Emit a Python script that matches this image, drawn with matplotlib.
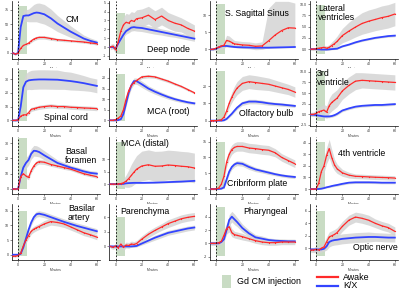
import matplotlib
matplotlib.use("Agg")
import matplotlib.pyplot as plt
import numpy as np

plt.rcParams['font.family'] = ['Liberation Sans', 'DejaVu Sans']

# time grid (minutes)
t = [-4, -2, 0, 2, 4, 6, 8, 10, 12, 14, 16, 20, 25, 30, 35, 40, 45, 50, 55, 60]

cm_kx = [0, -2, 0, 45, 64, 65, 65, 67, 69, 70, 69.5, 67, 60, 51, 44, 37, 31, 25, 21, 18]
cm_kx_sd = [2, 2, 2, 8, 10, 10, 11, 13, 15, 16, 17, 17, 16, 14, 12, 10, 8, 6, 5, 4]
cm_aw = [0, -2, 0, 8, 13, 15, 17, 21, 24, 26, 27, 27, 25, 23, 22, 21, 20, 19, 17.5, 16]
cm_aw_sd = [1, 1, 1, 2, 2, 2, 2.5, 3, 3, 3, 3, 3, 3, 2.5, 2.5, 2, 2, 2, 2, 2]

dn_kx = [0, 0, -0.2, 0.4, 0.9, 1.4, 1.8, 2.0, 2.2, 2.25, 2.2, 2.15, 2.0, 1.85, 1.7, 1.55, 1.4, 1.25, 1.1, 0.95]
dn_kx_sd = [0.2, 0.2, 0.2, 0.3, 0.3, 0.3, 0.35, 0.4, 0.4, 0.4, 0.4, 0.4, 0.4, 0.4, 0.35, 0.35, 0.3, 0.3, 0.3, 0.3]
dn_aw = [0, 0.1, -0.3, 0.6, 1.8, 2.5, 2.8, 2.7, 3.0, 2.9, 3.2, 3.3, 3.6, 3.1, 3.5, 3.0, 2.7, 2.5, 2.1, 1.8]
dn_aw_sd = [0.3, 0.3, 0.4, 0.6, 0.8, 0.9, 1, 1, 1, 1, 1, 1, 1, 1, 1, 0.9, 0.9, 0.8, 0.8, 0.7]

ss_kx = [0, 0, 0.2, 0.6, 0.9, 1.0, 1.0, 0.9, 0.8, 0.7, 0.65, 0.6, 0.55, 0.5, 0.5, 0.5, 0.55, 0.6, 0.65, 0.7]
ss_kx_sd = [0.1, 0.1, 0.2, 0.3, 0.3, 0.3, 0.3, 0.3, 0.2, 0.2, 0.2, 0.2, 0.2, 0.2, 0.2, 0.2, 0.2, 0.2, 0.2, 0.2]
ss_aw = [0, 0.1, 0.3, 0.7, 1.0, 1.2, 2.6, 2.4, 2.0, 1.6, 1.5, 1.3, 1.2, 0.9, 1.0, 2.5, 4.2, 5.5, 6.3, 6.2]
ss_aw_lo = [-0.3, -0.2, -0.2, 0, 0, 0.2, 1.1, 0.9, 0.8, 0.6, 0.5, 0.3, 0.2, -0.1, 0, 0.5, 0.8, 0.9, 1.0, 1.0]
ss_aw_hi = [0.3, 0.4, 0.8, 1.5, 2.0, 2.2, 4.1, 3.9, 3.2, 2.6, 2.5, 2.3, 2.2, 1.9, 2.2, 12, 14, 14, 14, 13.5]

lv_kx = [0, 0, 0, -0.05, -0.1, -0.1, -0.1, -0.05, 0, 0.05, 0.1, 0.6, 1.0, 1.5, 1.9, 2.2, 2.5, 2.7, 2.9, 3.0]
lv_kx_sd = [0.15, 0.15, 0.15, 0.15, 0.15, 0.15, 0.15, 0.15, 0.15, 0.15, 0.15, 0.15, 0.15, 0.2, 0.2, 0.2, 0.2, 0.2, 0.25, 0.25]
lv_aw = [0, 0, 0.1, 0.2, 0.3, 0.4, 0.2, 0.4, 0.8, 1.2, 1.7, 3.0, 4.0, 4.9, 5.7, 6.2, 6.6, 7.0, 7.3, 7.8]
lv_aw_sd = [0.3, 0.3, 0.3, 0.4, 0.4, 0.5, 0.5, 0.6, 0.8, 1.0, 1.2, 1.6, 2.0, 2.2, 2.4, 2.5, 2.5, 2.6, 2.6, 2.6]

sc_kx = [0, 0, 0, 10, 24, 28, 29, 29.3, 29.5, 29.6, 29.7, 29.7, 29.6, 29.5, 29, 28.5, 27.8, 27, 26, 25]
sc_kx_sd = [0.5, 0.5, 0.5, 3, 5, 6, 6.5, 7, 7, 7, 7, 7, 7, 7, 6.5, 6.5, 6, 5.5, 5, 5]
sc_aw = [0, 0, 0.5, 3, 4, 4, 5.5, 8, 8.5, 9, 9.5, 10, 10.5, 10, 10, 9.5, 9.3, 9, 8.8, 8.5]
sc_aw_sd = [0.5, 0.5, 0.5, 1, 1.2, 1.2, 1.5, 1.5, 1.5, 1.5, 1.5, 1.5, 1.5, 1.5, 1.5, 1.5, 1.5, 1.5, 1.5, 1.5]

mr_kx = [0, 0, 0, 0.1, 0.5, 3, 8, 13, 16.5, 18.5, 18.5, 17, 15, 13.5, 12.2, 11, 10, 9.2, 8.5, 8]
mr_kx_sd = [0.3, 0.3, 0.3, 0.3, 0.5, 1, 1.5, 1.5, 1.5, 1.5, 1.5, 1.5, 1.3, 1.2, 1.1, 1, 0.9, 0.8, 0.7, 0.7]
mr_aw = [0, 0, 0.3, 1, 2, 5, 10, 14, 16.5, 17.8, 18.8, 20.5, 20.8, 20.5, 19.5, 18.5, 17.2, 16, 14.5, 13]
mr_aw_sd = [0.3, 0.3, 0.3, 0.4, 0.5, 0.6, 0.8, 0.8, 0.8, 0.8, 0.8, 0.8, 0.8, 0.7, 0.7, 0.7, 0.6, 0.6, 0.6, 0.5]

ob_kx = [0, 0, 0, 0, 0, 0.2, 1, 2.5, 4, 5.8, 7.5, 10, 11, 11, 10.6, 10, 9.6, 9.3, 8.9, 8.5]
ob_kx_sd = [0.2, 0.2, 0.2, 0.2, 0.2, 0.3, 0.5, 0.7, 0.8, 0.9, 1, 1.2, 1.3, 1.3, 1.2, 1.1, 1, 1, 0.9, 0.9]
ob_aw = [0, 0, 0, 0.2, 0.5, 2, 5.5, 10, 13.5, 16.5, 18.8, 21.5, 22.5, 22, 21.5, 21, 20, 19, 18, 16.5]
ob_aw_sd = [0.3, 0.3, 0.3, 0.4, 0.6, 1, 1.8, 2.5, 3, 3.5, 3.8, 4, 4, 4, 3.8, 3.6, 3.4, 3.2, 3, 3]

v3_kx = [-0.1, -0.1, -0.2, -0.3, -0.4, -0.5, -0.5, -0.5, -0.4, -0.2, 0.1, 0.9, 1.4, 1.8, 2.0, 2.1, 2.2, 2.2, 2.3, 2.4]
v3_kx_sd = [0.3] * 20
v3_aw = [0, 0, 0.2, 0.6, 0.8, 1.0, 0.5, 2.0, 2.8, 3.3, 3.8, 5.5, 6.8, 7.8, 8.0, 7.9, 7.8, 7.7, 7.6, 7.5]
v3_aw_sd = [0.5, 0.5, 0.8, 1.0, 1.2, 1.3, 1.5, 1.8, 2, 2, 2, 2, 2, 2, 1.8, 1.8, 1.8, 1.8, 1.8, 1.8]

bf_kx = [0, 0, 0, 8, 14, 17, 19, 23, 25, 24.8, 24.2, 22, 19.5, 17, 15.5, 14, 12.8, 11.5, 10.5, 10]
bf_kx_sd = [0.5, 0.5, 0.5, 2, 3, 3.5, 3.5, 3.5, 3.5, 3.5, 3.2, 3, 2.5, 2, 1.8, 1.5, 1.5, 1.5, 1.5, 1.5]
bf_aw = [0, 0, 0, 8, 10, 8.5, 7.5, 12, 15, 17, 17.8, 17.5, 16, 15, 14, 13, 11.5, 10, 9, 8]
bf_aw_sd = [0.5, 0.5, 0.5, 1.5, 1.5, 1.5, 1.5, 1.5, 1.5, 1.5, 1.5, 1.5, 1.2, 1.2, 1.2, 1, 1, 1, 1, 1]

md_kx = [0, 0, 0, 0, 0, 0.1, 0.3, 0.4, 0.45, 0.5, 0.5, 0.5, 0.55, 0.6, 0.7, 0.8, 0.9, 1.0, 1.15, 1.3]
md_kx_sd = [0.3] * 20
md_aw = [0, 0, 0, 0.1, 0.2, 0.5, 1.2, 2.2, 3.5, 4.8, 6.0, 7.3, 7.8, 7.2, 7.3, 7.7, 7.5, 7.2, 7.0, 6.5]
md_aw_sd = [0.3, 0.3, 0.3, 0.5, 0.8, 1.5, 2.5, 3.5, 4.5, 5, 5.5, 6, 6, 6, 6, 6, 6, 6, 6, 6]

cp_kx = [0, 0, 0, 0, 0.1, 0.5, 3, 5.5, 7, 7.8, 8.2, 8, 7, 6.2, 5.7, 5.2, 4.7, 4.3, 4, 3.8]
cp_kx_sd = [0.2, 0.2, 0.2, 0.2, 0.2, 0.3, 0.6, 0.8, 0.8, 0.8, 0.8, 0.8, 0.8, 0.7, 0.6, 0.6, 0.5, 0.5, 0.5, 0.5]
cp_aw = [0, 0, 0, 0.3, 1.5, 4, 8.5, 11, 12.5, 13.2, 13.5, 13.5, 13, 12.8, 12.5, 12.3, 11.5, 10, 9, 8]
cp_aw_sd = [0.3, 0.3, 0.3, 0.5, 0.8, 1.2, 1.5, 1.5, 1.5, 1.5, 1.5, 1.5, 1.5, 1.5, 1.5, 1.5, 1.3, 1.2, 1.2, 1.2]

v4_kx = [0, 0, 0, 0, 0.3, 0.8, 1.5, 2, 2.6, 3.1, 3.5, 4.5, 5.5, 5.8, 5.8, 5.8, 5.7, 5.5, 5.5, 5.5]
v4_kx_sd = [0.3, 0.3, 0.3, 0.3, 0.4, 0.5, 0.6, 0.7, 0.8, 0.9, 1, 1, 1, 1, 1, 1, 1, 1, 1, 1]
v4_aw = [0, 0, 0, 5, 15, 20, 29, 35, 27, 21, 17.5, 14, 12, 11, 10.8, 10.5, 10.2, 10, 9.8, 9.5]
v4_aw_sd = [0.5, 0.5, 0.5, 3, 5, 6, 7, 8, 7, 5, 4, 3, 2.5, 2, 2, 2, 2, 2, 2, 2]

ba_kx = [0, 0, 0, 0.3, 2.5, 5.5, 8.5, 11, 12.8, 13.8, 14, 13.6, 12.8, 12, 11.2, 10.5, 9.8, 9.2, 8.6, 8]
ba_kx_sd = [0.3, 0.3, 0.3, 0.4, 0.6, 0.8, 1, 1, 1, 1, 1, 1, 1, 1, 1, 1, 1, 1, 0.9, 0.9]
ba_aw = [-0.5, -0.5, -0.3, 0.5, 3, 5, 6.5, 8, 8.7, 9.2, 9.6, 10.5, 11.3, 11, 10.5, 9.5, 8.5, 7.5, 6.8, 6]
ba_aw_sd = [0.3, 0.3, 0.3, 0.5, 0.8, 1, 1, 1, 1, 1, 1, 1.2, 1.2, 1.2, 1.2, 1.1, 1, 1, 0.9, 0.9]

pa_kx = [0, 0, 0, 0, 0, 0, 0, 0, 0, 0.05, 0.1, 0.6, 1.2, 1.8, 2.3, 2.8, 3.1, 3.4, 3.7, 3.9]
pa_kx_sd = [0.2, 0.2, 0.2, 0.2, 0.2, 0.2, 0.2, 0.2, 0.2, 0.2, 0.2, 0.3, 0.4, 0.5, 0.5, 0.5, 0.5, 0.5, 0.5, 0.5]
pa_aw = [0, -0.2, 0.1, -0.3, 0.5, -0.2, 0.3, 0.2, 0.5, 0.4, 0.6, 1.5, 2.5, 3.3, 4.0, 4.7, 5.2, 5.7, 6.0, 6.2]
pa_aw_sd = [0.4, 0.4, 0.5, 0.6, 0.7, 0.6, 0.6, 0.6, 0.6, 0.6, 0.6, 0.7, 0.7, 0.7, 0.7, 0.8, 0.8, 0.8, 0.8, 0.8]

ph_kx = [0, 0, 0, 0, 0.2, 0.6, 2.0, 3.5, 4.0, 3.6, 3.2, 2.3, 1.5, 0.9, 0.7, 0.5, 0.4, 0.35, 0.3, 0.3]
ph_kx_sd = [0.2, 0.2, 0.2, 0.2, 0.3, 0.4, 0.6, 0.8, 0.8, 0.8, 0.7, 0.6, 0.5, 0.4, 0.4, 0.3, 0.3, 0.3, 0.3, 0.3]
ph_aw = [0, 0, 0, 0.1, 0.3, 1.2, 2.2, 2.5, 1.6, 1.3, 1.2, 1.0, 0.7, 0.4, 0.2, 0.1, 0.1, 0.2, 0.2, 0.2]
ph_aw_sd = [0.3, 0.3, 0.3, 0.3, 0.5, 0.7, 0.8, 0.8, 0.6, 0.5, 0.5, 0.5, 0.4, 0.4, 0.4, 0.4, 0.4, 0.4, 0.4, 0.4]

on_kx = [-0.2, -0.2, -0.2, -0.2, -0.2, -0.1, 0.3, 1.0, 1.2, 1.3, 1.35, 1.5, 1.6, 1.7, 1.75, 1.8, 1.8, 1.75, 1.7, 1.7]
on_kx_sd = [0.3, 0.3, 0.3, 0.3, 0.3, 0.4, 0.6, 0.8, 0.8, 0.8, 0.8, 0.8, 0.8, 0.8, 0.8, 0.8, 0.7, 0.7, 0.7, 0.7]
on_aw = [-0.3, -0.3, -0.2, -0.3, 0, 0.2, 1.0, 1.8, 2.0, 2.2, 2.5, 3.5, 4.5, 5.0, 4.8, 4.5, 4.0, 3.6, 3.3, 2.7]
on_aw_sd = [0.4, 0.4, 0.5, 0.5, 0.6, 0.7, 0.8, 0.8, 0.8, 0.8, 0.8, 0.8, 0.8, 0.8, 0.8, 0.8, 0.7, 0.7, 0.7, 0.7]

W, H = 400, 295
fig = plt.figure(figsize=(4, 2.95), dpi=100)

col_left = [11.5, 109, 209.5, 309.5]
row_span = [(1, 59), (68, 126), (137, 194), (204, 260)]
RED = '#ff2a2a'
BLUE = '#3344ff'
GREEN = '#c9dcc4'

def band(ax, y, sd=None, lo=None, hi=None):
    y = np.array(y)
    if lo is None:
        lo = y - np.array(sd)
        hi = y + np.array(sd)
    ax.fill_between(t, lo, hi, color='#d4d4d4', alpha=0.85, lw=0, zorder=2)

def panel(r, c, ylim, yticks, ylabels, gtop, kx, kx_sd, aw, aw_sd=None, aw_lo=None, aw_hi=None):
    top, bot = row_span[r]
    ax = fig.add_axes([col_left[c] / W, 1 - bot / H, 88 / W, (bot - top) / H])
    ax.set_xlim(-5, 62)
    ax.set_ylim(*ylim)
    ax.axvspan(0, 7, ymin=0.08, ymax=gtop, color=GREEN, lw=0, zorder=1)
    band(ax, kx, kx_sd)
    if aw_lo is not None:
        band(ax, aw, lo=aw_lo, hi=aw_hi)
    else:
        band(ax, aw, aw_sd)
    ax.plot(t, kx, color=BLUE, lw=1.3, zorder=4)
    ax.plot(t, aw, color=RED, lw=0.9, marker='o', ms=0.9, mew=0, zorder=5)
    ax.axvline(0, color='black', ls=(0, (2, 2)), lw=0.6, zorder=6)
    for s in ['top', 'right']:
        ax.spines[s].set_visible(False)
    for s in ['left', 'bottom']:
        ax.spines[s].set_linewidth(0.5)
    ax.set_xticks([0, 20, 40, 60])
    ax.set_yticks(yticks)
    ax.set_yticklabels(ylabels)
    ax.tick_params(length=1.2, width=0.4, pad=0.8, labelsize=2.6, colors='#333333')
    ax.set_xlabel('Minutes', fontsize=2.4, labelpad=0.8, color='#333333')
    return ax

def title(x, y, s, ha='center'):
    fig.text(x / W, 1 - y / H, s, ha=ha, va='center', fontsize=6.3, linespacing=0.95)

panel(0, 0, (-10.4, 90), [0, 25, 50, 75], ['0', '25', '50', '75'], 0.91, cm_kx, cm_kx_sd, cm_aw, cm_aw_sd)
panel(0, 1, (-1.35, 5.2), [-1, 0, 1, 2, 3, 4, 5], ['-1', '0', '1', '2', '3', '4', '5'], 0.79, dn_kx, dn_kx_sd, dn_aw, dn_aw_sd)
panel(0, 2, (-2.8, 14.1), [0, 5, 10], ['0', '5', '10'], 0.95, ss_kx, ss_kx_sd, ss_aw, aw_lo=ss_aw_lo, aw_hi=ss_aw_hi)
panel(0, 3, (-2.2, 10.7), [0, 2.5, 5, 7.5, 10], ['0.0', '2.5', '5.0', '7.5', '10.0'], 0.93, lv_kx, lv_kx_sd, lv_aw, lv_aw_sd)
panel(1, 0, (-4.1, 38), [0, 10, 20, 30], ['0', '10', '20', '30'], 0.97, sc_kx, sc_kx_sd, sc_aw, sc_aw_sd)
panel(1, 1, (-2.7, 24.7), [0, 5, 10, 15, 20], ['0', '5', '10', '15', '20'], 0.9, mr_kx, mr_kx_sd, mr_aw, mr_aw_sd)
panel(1, 2, (-3.1, 30.4), [0, 10, 20], ['0', '10', '20'], 0.94, ob_kx, ob_kx_sd, ob_aw, ob_aw_sd)
panel(1, 3, (-2.75, 10.9), [-2.5, 0, 2.5, 5, 7.5, 10], ['-2.5', '0.0', '2.5', '5.0', '7.5', '10.0'], 0.94, v3_kx, v3_kx_sd, v3_aw, v3_aw_sd)
panel(2, 0, (-3.3, 34), [0, 10, 20, 30], ['0', '10', '20', '30'], 0.98, bf_kx, bf_kx_sd, bf_aw, bf_aw_sd)
panel(2, 1, (-4, 19), [0, 5, 10], ['0', '5', '10'], 0.92, md_kx, md_kx_sd, md_aw, md_aw_sd)
panel(2, 2, (-1.6, 16.5), [0, 5, 10, 15], ['0', '5', '10', '15'], 0.92, cp_kx, cp_kx_sd, cp_aw, cp_aw_sd)
panel(2, 3, (-4.3, 45), [0, 10, 20, 30, 40], ['0', '10', '20', '30', '40'], 0.92, v4_kx, v4_kx_sd, v4_aw, v4_aw_sd)
panel(3, 0, (-1.8, 17.3), [0, 5, 10, 15], ['0', '5', '10', '15'], 0.88, ba_kx, ba_kx_sd, ba_aw, ba_aw_sd)
panel(3, 1, (-2.8, 8.75), [0, 3, 6], ['0', '3', '6'], 0.77, pa_kx, pa_kx_sd, pa_aw, pa_aw_sd)
panel(3, 2, (-2.5, 5.9), [-2, 0, 2, 4], ['-2', '0', '2', '4'], 0.95, ph_kx, ph_kx_sd, ph_aw, ph_aw_sd)
panel(3, 3, (-1.9, 7.1), [0, 2, 4, 6], ['0', '2', '4', '6'], 0.87, on_kx, on_kx_sd, on_aw, on_aw_sd)

title(72, 19, 'CM')
title(168, 50, 'Deep node')
title(257, 14, 'S. Sagittal Sinus')
title(318, 13, 'Lateral\nventricles', ha='left')
title(66, 117, 'Spinal cord')
title(168, 112, 'MCA (root)')
title(266, 113, 'Olfactory bulb')
title(317, 78, '3rd\nventricle', ha='left')
title(65, 156, 'Basal\nforamen', ha='left')
title(145, 143, 'MCA (distal)')
title(257, 183, 'Cribriform plate')
title(362, 153, '4th ventricle')
title(68, 213, 'Basilar\nartery', ha='left')
title(145, 211, 'Parenchyma')
title(266, 212, 'Pharyngeal')
title(375, 248, 'Optic nerve')

# legend
fig.patches.append(plt.Rectangle((222 / W, 1 - 288 / H), 9 / W, 13 / H, transform=fig.transFigure,
                                 color=GREEN, lw=0))
fig.text(237 / W, 1 - 282 / H, 'Gd CM injection', ha='left', va='center', fontsize=6.4)
fig.lines.append(plt.Line2D([317 / W, 338 / W], [1 - 277 / H, 1 - 277 / H], transform=fig.transFigure,
                            color=RED, lw=1.6))
fig.lines.append(plt.Line2D([317 / W, 338 / W], [1 - 286 / H, 1 - 286 / H], transform=fig.transFigure,
                            color=BLUE, lw=1.6))
fig.text(343 / W, 1 - 277 / H, 'Awake', ha='left', va='center', fontsize=6.4)
fig.text(343 / W, 1 - 286 / H, 'K/X', ha='left', va='center', fontsize=6.4)

fig.savefig('out.png', dpi=100)
